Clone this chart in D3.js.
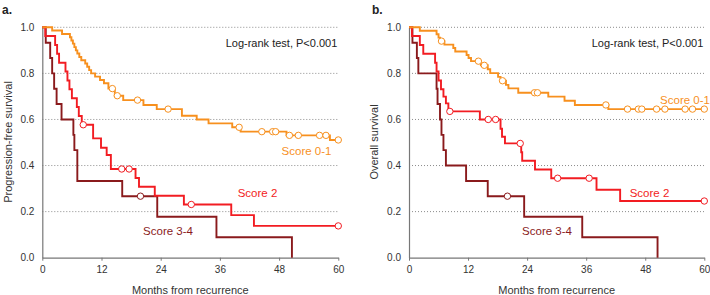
<!DOCTYPE html>
<html><head><meta charset="utf-8">
<script src="https://cdn.jsdelivr.net/npm/d3@7"></script>
<style>
html,body{margin:0;padding:0;background:#fff;}
svg{display:block;font-family:"Liberation Sans",Arial,sans-serif;}
</style></head>
<body>
<svg id="chart" width="710" height="295"></svg>
<script>
// ---------- DATA ----------
const xTicks = [0, 12, 24, 36, 48, 60];
const yTicks = [0.0, 0.2, 0.4, 0.6, 0.8, 1.0];
const panelLetters = ["a.", "b."];
const yTitles = ["Progression-free survival", "Overall survival"];
const xTitle = "Months from recurrence";
const testLabel = "Log-rank test, P<0.001";
const seriesNames = ["Score 0-1", "Score 2", "Score 3-4"];
const seriesColors = ["#f7901e", "#f21c22", "#8a1a1c"];

// Panel a: progression-free survival
const pfs01Times = [2.0, 4.0, 5.6, 5.9, 6.2, 6.5, 6.8, 7.1, 7.5, 7.9, 8.7, 9.1, 9.5, 9.9, 10.7, 11.7, 12.5, 13.4, 14.7, 16.4, 20.5, 23.2, 28.3, 31.3, 33.7, 38.5, 40.2, 49.5, 58.3];
const pfs01Surv  = [0.986, 0.971, 0.957, 0.943, 0.929, 0.914, 0.900, 0.886, 0.871, 0.857, 0.843, 0.829, 0.814, 0.800, 0.786, 0.771, 0.757, 0.734, 0.703, 0.684, 0.663, 0.645, 0.616, 0.600, 0.583, 0.566, 0.547, 0.531, 0.511];
const pfs01Censor = [14.2, 15.2, 19.3, 25.5, 39.9, 44.5, 46.7, 47.3, 50.1, 51.9, 56.2, 57.5, 60];

const pfs2Times = [0.6, 2.6, 3.0, 3.4, 4.7, 5.1, 5.5, 6.0, 7.0, 7.4, 8.0, 10.3, 11.9, 13.05, 13.9, 18.9, 19.6, 22.8, 28.7, 38.3, 42.9];
const pfs2Surv  = [0.962, 0.923, 0.885, 0.846, 0.808, 0.769, 0.731, 0.692, 0.654, 0.615, 0.577, 0.518, 0.477, 0.446, 0.385, 0.346, 0.308, 0.269, 0.231, 0.185, 0.138];
const pfs2Censor = [8.3, 16.1, 17.6, 30.2, 60];

const pfs34Times = [0.7, 1.6, 2.0, 2.4, 2.9, 3.9, 6.3, 6.5, 7.1, 16.2, 23.3, 35.3, 50.6];
const pfs34Surv  = [0.933, 0.867, 0.800, 0.733, 0.667, 0.600, 0.533, 0.467, 0.333, 0.267, 0.178, 0.089, 0.0];
const pfs34Censor = [19.9];

// Panel b: overall survival
const os01Times = [2.2, 5.6, 6.0, 6.3, 7.2, 9.0, 9.4, 11.7, 12.1, 12.6, 14.6, 16.0, 16.5, 18.1, 18.6, 19.7, 20.2, 22.2, 28.3, 31.6, 33.7, 40.5];
const os01Surv  = [0.985, 0.970, 0.955, 0.940, 0.925, 0.910, 0.895, 0.880, 0.867, 0.853, 0.835, 0.818, 0.801, 0.785, 0.768, 0.750, 0.735, 0.716, 0.699, 0.681, 0.663, 0.645];
const os01Censor = [6.6, 14.1, 15.3, 19.0, 25.5, 26.1, 40.0, 44.4, 46.6, 47.3, 50.3, 52.0, 56.1, 57.6, 60];

const os2Times = [0.6, 2.2, 2.9, 5.3, 5.6, 6.0, 6.5, 7.0, 7.5, 8.0, 14.4, 18.6, 18.9, 19.5, 22.8, 23.0, 25.6, 28.9, 38.1, 42.9];
const os2Surv  = [0.962, 0.923, 0.885, 0.846, 0.808, 0.769, 0.731, 0.699, 0.670, 0.635, 0.600, 0.560, 0.525, 0.496, 0.458, 0.421, 0.383, 0.345, 0.295, 0.246];
const os2Censor = [8.3, 16.1, 17.6, 22.6, 30.2, 36.6, 60];

const os34Times = [0.7, 1.6, 1.9, 5.6, 5.8, 6.3, 6.6, 7.0, 7.5, 11.6, 16.0, 23.4, 35.2, 50.5];
const os34Surv  = [0.933, 0.867, 0.800, 0.733, 0.667, 0.600, 0.533, 0.467, 0.400, 0.333, 0.267, 0.178, 0.089, 0.0];
const os34Censor = [20.0];

// ---------- LAYOUT ----------
const panels = [
  {x0: 42.3, x1: 338.3, letterX: 2, yTitleX: 8,
   series: [[pfs01Times, pfs01Surv, pfs01Censor], [pfs2Times, pfs2Surv, pfs2Censor], [pfs34Times, pfs34Surv, pfs34Censor]],
   labels: [[306.5, 151], [257.5, 193], [168, 231]]},
  {x0: 409, x1: 704.3, letterX: 372, yTitleX: 374,
   series: [[os01Times, os01Surv, os01Censor], [os2Times, os2Surv, os2Censor], [os34Times, os34Surv, os34Censor]],
   labels: [[685, 99.5], [649.5, 193], [547, 231]]}
];
const yTop = 27.3, yBot = 257.7;

const svg = d3.select("#chart");

panels.forEach((p, pi) => {
  const x = d3.scaleLinear().domain([0, 60]).range([p.x0, p.x1]);
  const y = d3.scaleLinear().domain([0, 1]).range([yBot, yTop]);
  const g = svg.append("g");

  // gridlines
  g.selectAll("line.grid").data(yTicks.filter(d => d > 0)).join("line")
    .attr("x1", x(0)).attr("x2", x(60))
    .attr("y1", d => y(d)).attr("y2", d => y(d))
    .attr("stroke", "#8c8c8c").attr("stroke-width", 1)
    .attr("stroke-dasharray", "1,2");

  // y axis
  const yAxis = d3.axisLeft(y).tickValues(yTicks).tickFormat(d3.format(".1f")).tickSize(0).tickPadding(8);
  const ya = g.append("g").attr("transform", `translate(${x(0)},0)`).call(yAxis);
  ya.select(".domain").attr("stroke", "#777").attr("stroke-width", 1.2);
  ya.selectAll("text").attr("font-size", 10).attr("fill", "#333").attr("font-family", "Liberation Sans, Arial, sans-serif");

  // x axis
  const xAxis = d3.axisBottom(x).tickValues(xTicks).tickSize(3).tickPadding(5).tickSizeOuter(0);
  const xa = g.append("g").attr("transform", `translate(0,${yBot})`).call(xAxis);
  xa.select(".domain").attr("stroke", "#777").attr("stroke-width", 1.2);
  xa.selectAll(".tick line").attr("stroke", "#777");
  xa.selectAll("text").attr("font-size", 10).attr("fill", "#333").attr("font-family", "Liberation Sans, Arial, sans-serif");

  // titles
  g.append("text").attr("x", (x(0) + x(60)) / 2).attr("y", 293.5)
    .attr("text-anchor", "middle").attr("font-size", 11).attr("fill", "#333").text(xTitle);
  g.append("text").attr("transform", `translate(${p.yTitleX + 4},${142}) rotate(-90)`)
    .attr("text-anchor", "middle").attr("font-size", 11).attr("fill", "#333").text(yTitles[pi]);
  g.append("text").attr("x", p.letterX).attr("y", 14)
    .attr("font-size", 12).attr("font-weight", "bold").attr("fill", "#222").text(panelLetters[pi]);
  g.append("text").attr("x", x(60) - 1).attr("y", 47)
    .attr("text-anchor", "end").attr("font-size", 11).attr("fill", "#222").text(testLabel);

  // curves (draw dark first so orange sits on top as in reference order)
  const order = [2, 1, 0];
  order.forEach(si => {
    const [times, surv, cens] = p.series[si];
    const pts = [[0, 1]];
    times.forEach((t, i) => pts.push([t, surv[i]]));
    const lastS = surv[surv.length - 1];
    const tEnd = Math.max(times[times.length - 1], d3.max(cens));
    if (lastS > 0 && tEnd > times[times.length - 1]) pts.push([tEnd, lastS]);
    const line = d3.line().x(d => x(d[0])).y(d => y(d[1])).curve(d3.curveStepAfter);
    g.append("path").datum(pts).attr("d", line)
      .attr("fill", "none").attr("stroke", seriesColors[si]).attr("stroke-width", 1.9);
    const survAt = t => { let s = 1; times.forEach((tt, i) => { if (tt <= t) s = surv[i]; }); return s; };
    g.selectAll(null).data(cens).join("circle")
      .attr("cx", d => x(d)).attr("cy", d => y(survAt(d))).attr("r", 3.2)
      .attr("fill", "#fff").attr("stroke", seriesColors[si]).attr("stroke-width", 1);
    g.append("text").attr("x", p.labels[si][0]).attr("y", p.labels[si][1] + 4)
      .attr("text-anchor", "middle").attr("font-size", 11.5).attr("fill", seriesColors[si]).text(seriesNames[si]);
  });
});
</script>
</body></html>
